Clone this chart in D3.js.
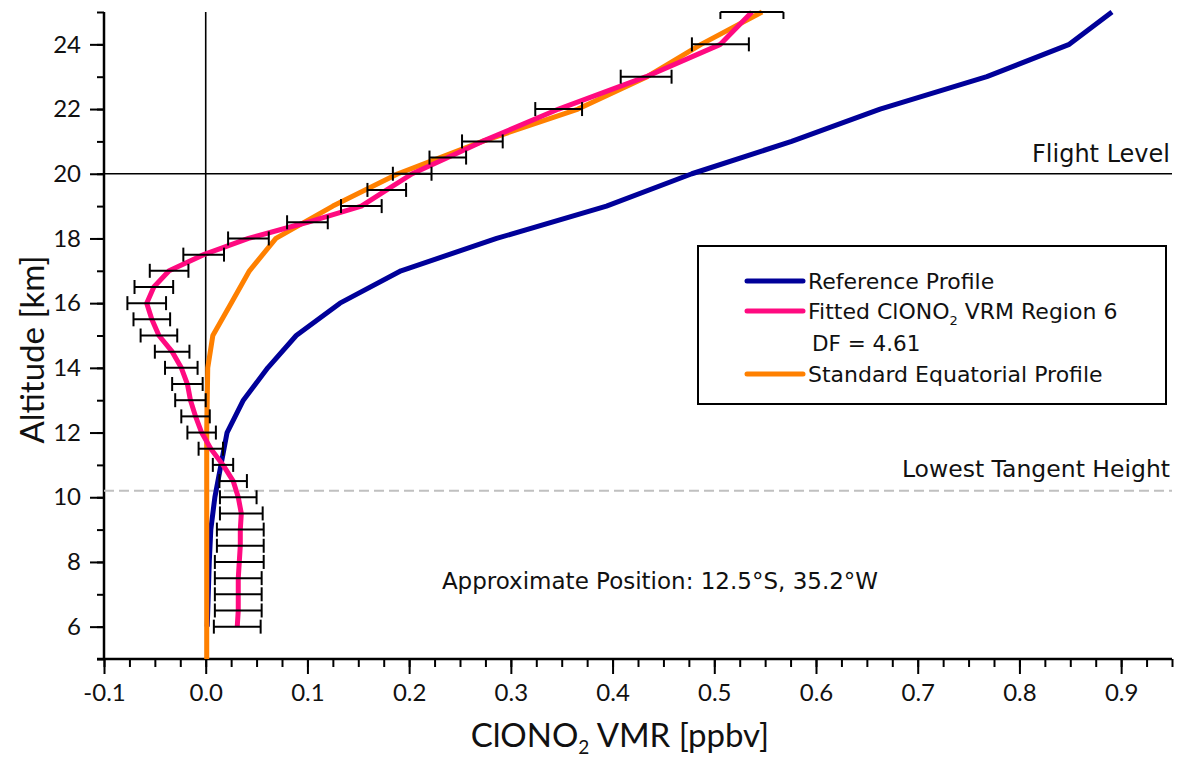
<!DOCTYPE html>
<html>
<head>
<meta charset="utf-8">
<script src="https://cdn.jsdelivr.net/npm/d3@7"></script>
<style>
  html, body { margin: 0; padding: 0; background: #fff; }
  svg { display: block; font-family: Lato, "Open Sans", sans-serif; }
  .note { font-family: "DejaVu Sans", Verdana, sans-serif; fill: #111; }
</style>
</head>
<body>
<svg id="chart" width="1185" height="758"></svg>
<script>
// Reference ClONO2 profile (altitude km -> VMR ppbv)
const refAlt = [6, 7, 8, 9, 10, 11, 12, 13, 14, 15, 16, 17, 18, 19, 20, 21, 22, 23, 24, 25];
const refVmr = [0.0015, 0.0025, 0.0035, 0.005, 0.009, 0.015, 0.021, 0.037, 0.061, 0.089, 0.132, 0.192, 0.286, 0.394, 0.478, 0.576, 0.663, 0.768, 0.849, 0.891];

// Standard equatorial climatology
const stdAlt = [5, 6, 7, 8, 9, 10, 11, 12, 13, 14, 15, 16, 17, 18, 19, 20, 21, 22, 23, 24, 25];
const stdVmr = [0.001, 0.001, 0.001, 0.001, 0.001, 0.001, 0.001, 0.001, 0.0015, 0.002, 0.007, 0.025, 0.043, 0.069, 0.125, 0.189, 0.272, 0.366, 0.434, 0.487, 0.547];

// Retrieved profile with its uncertainty
const fitAlt = [6, 6.5, 7, 7.5, 8, 8.5, 9, 9.5, 10, 10.5, 11, 11.5, 12, 12.5, 13, 13.5, 14, 14.5, 15, 15.5, 16, 16.5, 17, 17.5, 18, 18.5, 19, 19.5, 20, 20.5, 21, 22, 23, 24, 25];
const fitVmr = [0.031, 0.032, 0.032, 0.032, 0.033, 0.034, 0.034, 0.035, 0.032, 0.027, 0.017, 0.005, -0.004, -0.010, -0.015, -0.018, -0.024, -0.033, -0.046, -0.053, -0.058, -0.051, -0.036, -0.002, 0.042, 0.100, 0.153, 0.178, 0.203, 0.238, 0.272, 0.347, 0.433, 0.506, 0.537];
const fitErr = [0.023, 0.023, 0.023, 0.023, 0.024, 0.023, 0.023, 0.021, 0.018, 0.0135, 0.010, 0.012, 0.014, 0.014, 0.015, 0.015, 0.016, 0.017, 0.018, 0.018, 0.019, 0.019, 0.019, 0.020, 0.020, 0.020, 0.020, 0.019, 0.019, 0.018, 0.020, 0.023, 0.025, 0.028, 0.031];

const xMajor = [-0.1, 0, 0.1, 0.2, 0.3, 0.4, 0.5, 0.6, 0.7, 0.8, 0.9];
const xLabels = ["-0.1", "0.0", "0.1", "0.2", "0.3", "0.4", "0.5", "0.6", "0.7", "0.8", "0.9"];
const yMajor = [6, 8, 10, 12, 14, 16, 18, 20, 22, 24];
const yLabels = ["6", "8", "10", "12", "14", "16", "18", "20", "22", "24"];

const flightLevel = 20;
const lowestTangent = 10.2;

const colors = { ref: "#000099", fit: "#ff0a80", std: "#ff8000" };

const svg = d3.select("#chart");
const x = d3.scaleLinear().domain([-0.1, 0.95]).range([104, 1172]);
const y = d3.scaleLinear().domain([5, 25]).range([659, 12]);

// --- axes -------------------------------------------------------------
const xMinor = d3.range(-0.1, 0.951, 0.025).map(v => +v.toFixed(3));
const yMinor = d3.range(5, 25.01, 1);

svg.append("g").attr("transform", `translate(0,${y(5)})`)
  .call(d3.axisBottom(x).tickValues(xMinor).tickSize(8).tickFormat(""))
  .call(g => g.select(".domain").remove())
  .selectAll("line").attr("stroke", "#000").attr("stroke-width", 2);

svg.append("g").attr("transform", `translate(0,${y(5)})`)
  .call(d3.axisBottom(x).tickValues(xMajor).tickSize(15).tickPadding(10)
        .tickFormat((d, i) => xLabels[i]))
  .call(g => g.select(".domain").remove())
  .call(g => g.selectAll("line").attr("stroke", "#000").attr("stroke-width", 2))
  .call(g => g.selectAll("text").attr("font-size", 24).attr("fill", "#111")
        .attr("font-family", "Lato, sans-serif"));

svg.append("g").attr("transform", `translate(${x(-0.1)},0)`)
  .call(d3.axisLeft(y).tickValues(yMinor).tickSize(7).tickFormat(""))
  .call(g => g.select(".domain").remove())
  .selectAll("line").attr("stroke", "#000").attr("stroke-width", 2);

svg.append("g").attr("transform", `translate(${x(-0.1)},0)`)
  .call(d3.axisLeft(y).tickValues(yMajor).tickSize(14).tickPadding(9)
        .tickFormat((d, i) => yLabels[i]))
  .call(g => g.select(".domain").remove())
  .call(g => g.selectAll("line").attr("stroke", "#000").attr("stroke-width", 2))
  .call(g => g.selectAll("text").attr("font-size", 24).attr("fill", "#111")
        .attr("font-family", "Lato, sans-serif"));

// axis lines
svg.append("line").attr("x1", x(-0.1) - 7).attr("x2", x(0.95))
  .attr("y1", y(5)).attr("y2", y(5)).attr("stroke", "#000").attr("stroke-width", 2.5);
svg.append("line").attr("x1", x(-0.1)).attr("x2", x(-0.1))
  .attr("y1", y(25)).attr("y2", y(5)).attr("stroke", "#000").attr("stroke-width", 2.5);

// axis titles
svg.append("text").attr("transform", `translate(44,${(y(5) + y(25)) / 2 + 14}) rotate(-90)`)
  .attr("text-anchor", "middle").attr("font-size", 33).attr("fill", "#111")
  .text("Altitude [km]");

const xt = svg.append("text").attr("x", 620).attr("y", 747)
  .attr("text-anchor", "middle").attr("font-size", 33).attr("fill", "#111");
xt.append("tspan").text("ClONO");
xt.append("tspan").attr("font-size", 19).attr("dy", 7).text("2");
xt.append("tspan").attr("dy", -7).text(" VMR [ppbv]");

// --- reference lines -----------------------------------------------------
svg.append("line").attr("x1", x(0)).attr("x2", x(0))
  .attr("y1", y(25)).attr("y2", y(5)).attr("stroke", "#000").attr("stroke-width", 1.6);
svg.append("line").attr("x1", x(-0.1) - 4).attr("x2", x(0.95))
  .attr("y1", y(flightLevel)).attr("y2", y(flightLevel)).attr("stroke", "#000").attr("stroke-width", 1.6);
svg.append("line").attr("x1", x(-0.1)).attr("x2", x(0.95))
  .attr("y1", y(lowestTangent)).attr("y2", y(lowestTangent))
  .attr("stroke", "#c0c0c0").attr("stroke-width", 2).attr("stroke-dasharray", "10,5");

svg.append("text").attr("class", "note").attr("x", 1170).attr("y", y(flightLevel) - 12)
  .attr("text-anchor", "end").attr("font-size", 24).text("Flight Level");
svg.append("text").attr("class", "note").attr("x", 1170).attr("y", y(lowestTangent) - 14)
  .attr("text-anchor", "end").attr("font-size", 23.5).text("Lowest Tangent Height");
svg.append("text").attr("class", "note").attr("x", 660).attr("y", 589)
  .attr("text-anchor", "middle").attr("font-size", 23)
  .text("Approximate Position: 12.5°S, 35.2°W");

// --- profiles -------------------------------------------------------------
const line = d3.line().x(d => x(d[1])).y(d => y(d[0]));

svg.append("path").datum(d3.zip(refAlt, refVmr)).attr("d", line)
  .attr("fill", "none").attr("stroke", colors.ref).attr("stroke-width", 5).attr("stroke-linejoin", "round");
svg.append("path").datum(d3.zip(stdAlt, stdVmr)).attr("d", line)
  .attr("fill", "none").attr("stroke", colors.std).attr("stroke-width", 5).attr("stroke-linejoin", "round");
svg.append("path").datum(d3.zip(fitAlt, fitVmr)).attr("d", line)
  .attr("fill", "none").attr("stroke", colors.fit).attr("stroke-width", 5).attr("stroke-linejoin", "round");

// error bars
const bars = svg.append("g").attr("stroke", "#000").attr("stroke-width", 2);
const fitRows = fitAlt.map((a, i) => ({ a, v: fitVmr[i], e: fitErr[i] }));
bars.selectAll(".eb").data(fitRows).join("line")
  .attr("x1", d => x(d.v - d.e)).attr("x2", d => x(d.v + d.e))
  .attr("y1", d => y(d.a)).attr("y2", d => y(d.a));
bars.selectAll(".capL").data(fitRows).join("line")
  .attr("x1", d => x(d.v - d.e)).attr("x2", d => x(d.v - d.e))
  .attr("y1", d => Math.max(y(d.a) - 7, y(25))).attr("y2", d => y(d.a) + 7);
bars.selectAll(".capR").data(fitRows).join("line")
  .attr("x1", d => x(d.v + d.e)).attr("x2", d => x(d.v + d.e))
  .attr("y1", d => Math.max(y(d.a) - 7, y(25))).attr("y2", d => y(d.a) + 7);

// --- legend -----------------------------------------------------------------
const lg = svg.append("g");
lg.append("rect").attr("x", 698).attr("y", 246).attr("width", 468).attr("height", 158)
  .attr("fill", "#fff").attr("stroke", "#000").attr("stroke-width", 2);
const legendItems = [
  { c: colors.ref, y: 281 },
  { c: colors.fit, y: 311 },
  { c: colors.std, y: 374 }
];
lg.selectAll(".ll").data(legendItems).join("line")
  .attr("x1", 747).attr("x2", 803).attr("y1", d => d.y).attr("y2", d => d.y)
  .attr("stroke", d => d.c).attr("stroke-width", 5).attr("stroke-linecap", "round");
lg.append("text").attr("class", "note").attr("x", 808).attr("y", 289).attr("font-size", 22).text("Reference Profile");
const ft = lg.append("text").attr("class", "note").attr("x", 808).attr("y", 319).attr("font-size", 22);
ft.append("tspan").text("Fitted ClONO");
ft.append("tspan").attr("font-size", 13).attr("dy", 6).text("2");
ft.append("tspan").attr("dy", -6).text(" VRM Region 6");
lg.append("text").attr("class", "note").attr("x", 812).attr("y", 351).attr("font-size", 21.5).text("DF = 4.61");
lg.append("text").attr("class", "note").attr("x", 808).attr("y", 382).attr("font-size", 22).text("Standard Equatorial Profile");
</script>
</body>
</html>
